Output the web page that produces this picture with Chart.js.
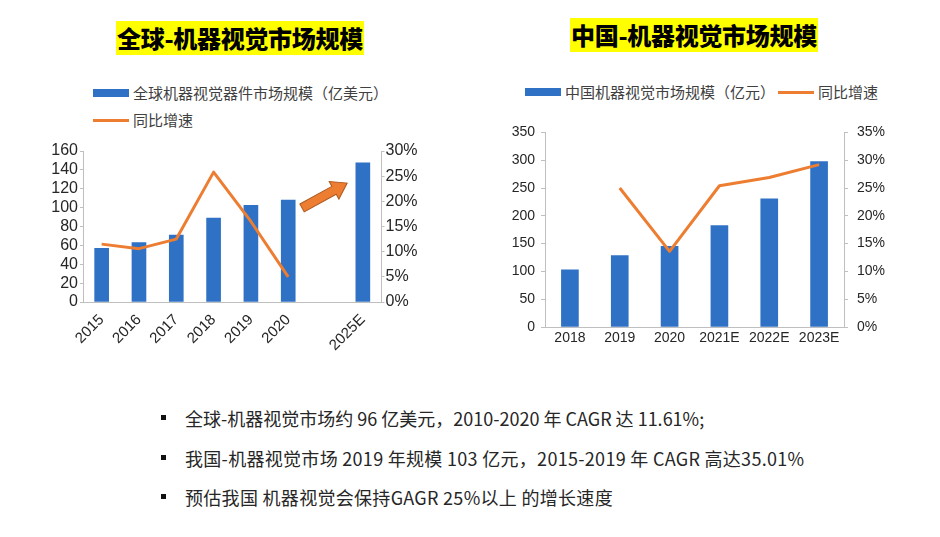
<!DOCTYPE html>
<html>
<head>
<meta charset="utf-8">
<script src="https://cdn.jsdelivr.net/npm/chart.js@4"></script>
<style>
  body { margin: 0; width: 940px; height: 537px; background: #fff; position: relative; overflow: hidden;
         font-family: "Noto Sans CJK SC", sans-serif; }
  .title { position: absolute; background: #ffff00; color: #000; font-weight: 900; font-size: 24px;
           height: 34px; line-height: 34px; white-space: nowrap; padding: 0 1px; letter-spacing: -0.3px; }
  .sw { position: absolute; width: 36px; }
  .lg { position: absolute; font-size: 15px; line-height: 16px; color: #404040; white-space: nowrap; }
  .dot { position: absolute; width: 5px; height: 5px; background: #111; }
  .note { position: absolute; font-size: 18px; line-height: 24px; color: #262626; white-space: nowrap; }
  canvas { position: absolute; }
</style>
</head>
<body>

<div class="title" style="left:116px; top:21px;">全球-机器视觉市场规模</div>
<div class="title" style="left:570px; top:18px;">中国-机器视觉市场规模</div>

<!-- legend, global chart -->
<div class="sw" style="left:93px; top:89px; height:8px; background:#2f71c5;"></div>
<div class="lg" style="left:133px; top:85px;">全球机器视觉器件市场规模（亿美元）</div>
<div class="sw" style="left:93px; top:119px; height:3px; background:#ed7d31;"></div>
<div class="lg" style="left:133px; top:112px;">同比增速</div>

<!-- legend, china chart -->
<div class="sw" style="left:525px; top:88px; height:8px; background:#2f71c5;"></div>
<div class="lg" style="left:565px; top:84px;">中国机器视觉市场规模（亿元）</div>
<div class="sw" style="left:778px; top:91px; height:3px; background:#ed7d31;"></div>
<div class="lg" style="left:818px; top:84px;">同比增速</div>

<canvas id="globalChart" width="400" height="216" style="left:30px; top:139px;"></canvas>
<canvas id="chinaChart" width="410" height="240" style="left:490px; top:115px;"></canvas>

<div class="dot" style="left:161px; top:415px;"></div>
<div class="note" style="left:185px; top:406px;">全球-机器视觉市场约 96 亿美元，2010-2020 年 CAGR 达 11.61%;</div>
<div class="dot" style="left:161px; top:455px;"></div>
<div class="note" style="left:185px; top:446px; letter-spacing:0.3px;">我国-机器视觉市场 2019 年规模 103 亿元，2015-2019 年 CAGR 高达35.01%</div>
<div class="dot" style="left:161px; top:494px;"></div>
<div class="note" style="left:185px; top:485px; letter-spacing:0.3px;">预估我国 机器视觉会保持GAGR 25%以上 的增长速度</div>

<script>
// global market (亿美元) and growth (%)
const globalYears = ['2015', '2016', '2017', '2018', '2019', '2020', '', '2025E'];
const globalMarket = [57, 63, 71, 89, 102.5, 108, null, 147.5];
const globalGrowth = [11.5, 10.6, 12.5, 25.8, 16.0, 5.0, null, null];

// china market (亿元) and growth (%)
const chinaYears = ['2018', '2019', '2020', '2021E', '2022E', '2023E'];
const chinaMarket = [103, 128.5, 145, 182.5, 230.5, 297.5];
const chinaGrowth = [null, 25.0, 13.6, 25.4, 26.9, 29.2];

const blue = '#2f71c5';
const orange = '#ed7d31';
const axisGrey = '#bfbfbf';

Chart.defaults.font.family = '"Liberation Sans", Arial, sans-serif';
Chart.defaults.color = '#262626';

// the fat orange arrow pointing from 2020 to 2025E
const trendArrow = {
  id: 'trendArrow',
  afterDatasetsDraw(chart) {
    const xs = chart.scales.x, ys = chart.scales.y;
    const x0 = xs.getPixelForValue(5.37), y0 = ys.getPixelForValue(99.6);
    const x1 = xs.getPixelForValue(6.58), y1 = ys.getPixelForValue(126);
    const len = Math.hypot(x1 - x0, y1 - y0);
    const ang = Math.atan2(y1 - y0, x1 - x0);
    const sw = 9, hw = 20, hl = 15;
    const ctx = chart.ctx;
    ctx.save();
    ctx.translate(x0, y0);
    ctx.rotate(ang);
    ctx.beginPath();
    ctx.moveTo(0, -sw / 2);
    ctx.lineTo(len - hl, -sw / 2);
    ctx.lineTo(len - hl, -hw / 2);
    ctx.lineTo(len, 0);
    ctx.lineTo(len - hl, hw / 2);
    ctx.lineTo(len - hl, sw / 2);
    ctx.lineTo(0, sw / 2);
    ctx.closePath();
    ctx.fillStyle = orange;
    ctx.fill();
    ctx.lineWidth = 1;
    ctx.strokeStyle = '#ae5a21';
    ctx.stroke();
    ctx.restore();
  }
};

new Chart(document.getElementById('globalChart'), {
  type: 'bar',
  data: {
    labels: globalYears,
    datasets: [{
      type: 'line',
      label: '同比增速',
      data: globalGrowth,
      yAxisID: 'y1',
      borderColor: orange,
      borderWidth: 3,
      borderJoinStyle: 'round',
      pointRadius: 0,
      tension: 0,
      order: 0
    }, {
      label: '全球机器视觉器件市场规模（亿美元）',
      data: globalMarket,
      yAxisID: 'y',
      backgroundColor: blue,
      barThickness: 14,
      order: 1
    }]
  },
  options: {
    responsive: false,
    animation: false,
    layout: { padding: { top: 12 } },
    plugins: { legend: { display: false }, tooltip: { enabled: false } },
    scales: {
      x: {
        grid: { display: false, drawTicks: false },
        border: { color: axisGrey },
        ticks: { font: { size: 15 }, minRotation: 45, maxRotation: 45, padding: 9, autoSkip: false },
        afterFit: s => { s.height = 53; }
      },
      y: {
        position: 'left',
        min: 0, max: 160,
        grid: { drawOnChartArea: false, tickLength: 3, color: axisGrey },
        border: { color: axisGrey },
        ticks: { stepSize: 20, font: { size: 16 }, padding: 2, autoSkip: false },
        afterFit: s => { s.width = 53; }
      },
      y1: {
        position: 'right',
        min: 0, max: 30,
        grid: { drawOnChartArea: false, tickLength: 3, color: axisGrey },
        border: { color: axisGrey },
        ticks: { stepSize: 5, font: { size: 16 }, padding: 1, autoSkip: false, callback: v => v + '%' },
        afterFit: s => { s.width = 48.5; }
      }
    }
  },
  plugins: [trendArrow]
});

new Chart(document.getElementById('chinaChart'), {
  type: 'bar',
  data: {
    labels: chinaYears,
    datasets: [{
      type: 'line',
      label: '同比增速',
      data: chinaGrowth,
      yAxisID: 'y1',
      borderColor: orange,
      borderWidth: 3,
      borderJoinStyle: 'round',
      pointRadius: 0,
      tension: 0,
      order: 0
    }, {
      label: '中国机器视觉市场规模（亿元）',
      data: chinaMarket,
      yAxisID: 'y',
      backgroundColor: blue,
      barThickness: 17,
      order: 1
    }]
  },
  options: {
    responsive: false,
    animation: false,
    layout: { padding: { top: 12 } },
    plugins: { legend: { display: false }, tooltip: { enabled: false } },
    scales: {
      x: {
        grid: { display: false, drawTicks: false },
        border: { color: axisGrey },
        ticks: { font: { size: 14 }, maxRotation: 0, padding: 3, autoSkip: false },
        afterFit: s => { s.height = 28; }
      },
      y: {
        position: 'left',
        min: 0, max: 350,
        grid: { drawOnChartArea: false, tickLength: 4, color: axisGrey },
        border: { color: axisGrey },
        ticks: { stepSize: 50, font: { size: 14 }, padding: 6, autoSkip: false },
        afterFit: s => { s.width = 55; }
      },
      y1: {
        position: 'right',
        min: 0, max: 35,
        grid: { drawOnChartArea: false, tickLength: 4, color: axisGrey },
        border: { color: axisGrey },
        ticks: { stepSize: 5, font: { size: 14 }, padding: 9, autoSkip: false, callback: v => v + '%' },
        afterFit: s => { s.width = 56; }
      }
    }
  }
});
</script>
</body>
</html>
